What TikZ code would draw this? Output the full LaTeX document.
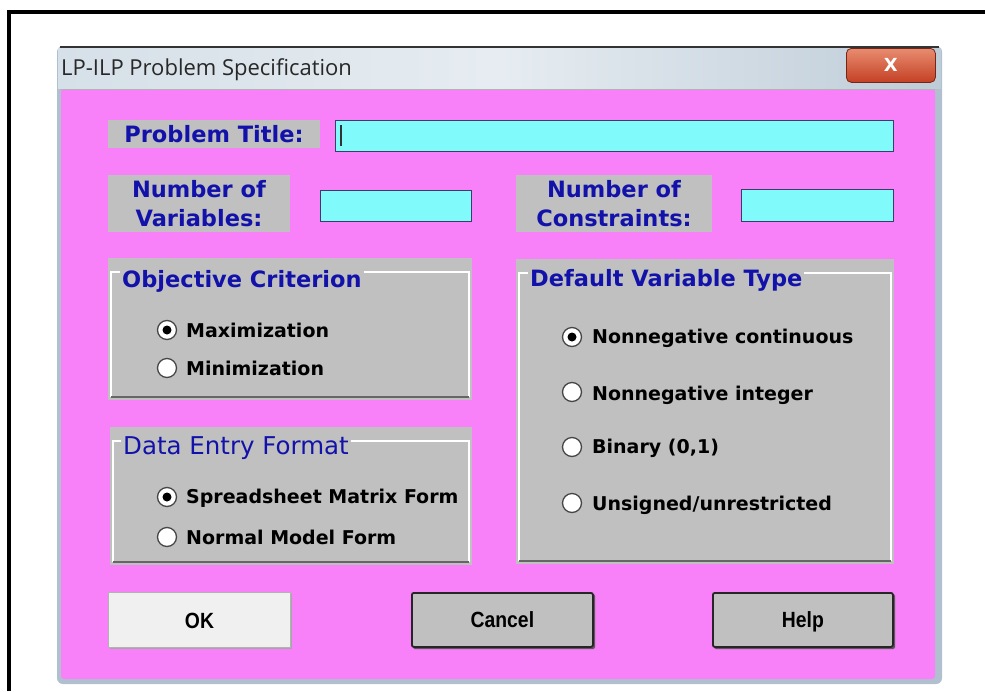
\documentclass[tikz,border=0pt]{standalone}
\usepackage{fontspec}
\usepackage{graphicx}
\setmainfont{DejaVu Sans}
\newfontfamily\wintitlefont{Open Sans}
\newfontfamily\btnfont{Liberation Sans}
\definecolor{pinkbg}{RGB}{248,128,248}
\definecolor{wingray}{RGB}{192,192,192}
\definecolor{fieldcyan}{RGB}{128,250,250}
\definecolor{fieldedge}{RGB}{60,60,100}
\definecolor{lblblue}{RGB}{18,18,170}
\definecolor{framegray}{RGB}{176,192,206}
\definecolor{titlebarA}{RGB}{214,224,232}
\definecolor{titlebarB}{RGB}{190,204,216}
\definecolor{closeA}{RGB}{232,140,112}
\definecolor{closeB}{RGB}{196,64,36}
\definecolor{titletext}{RGB}{40,40,40}
\definecolor{btnlight}{RGB}{240,240,240}
\tikzset{
  lblbox/.style={fill=wingray, inner sep=0pt, align=center, text=lblblue,
    font=\fontsize{22.5}{29}\selectfont\bfseries},
  field/.style={fill=fieldcyan, draw=fieldedge, line width=1.3pt, anchor=north west, inner sep=0pt},
  groupbox/.style={fill=wingray, anchor=north west, inner sep=0pt},
  grptitle/.style={fill=wingray, inner xsep=2pt, inner ysep=1pt, anchor=base west, text=lblblue,
    font=\fontsize{22.5}{26}\selectfont\bfseries},
  etchlight/.style={white, line width=1.2pt},
  etchdark/.style={gray!80!black, line width=1.2pt},
  radiobtn/.style={circle, fill=white, draw=gray!55!black, line width=1.3pt, minimum size=19pt, inner sep=0pt},
  radiodot/.style={circle, fill=black, minimum size=9pt, inner sep=0pt},
  radiotxt/.style={anchor=base west, inner sep=0pt, font=\fontsize{19}{22}\selectfont\bfseries},
  okbutton/.style={fill=btnlight, draw=gray!60, line width=1pt, anchor=north west, inner sep=0pt,
    text height=16pt, text depth=0pt, font=\btnfont\fontsize{22}{24}\selectfont\bfseries},
  graybutton/.style={fill=wingray, draw=black!85, line width=1.8pt, rounded corners=2pt, anchor=north west,
    inner sep=0pt, text height=16pt, text depth=0pt, font=\btnfont\fontsize{22}{24}\selectfont\bfseries},
  btnshadow/.style={fill=gray!70!black, rounded corners=2pt}
}
\begin{document}
\begin{tikzpicture}[x=1pt,y=-1pt]
\useasboundingbox (0,0) rectangle (985,691);
\fill[white] (0,0) rectangle (985,691);
% black frame
\draw[line width=4pt] (9,691) -- (9,12) -- (985,12);
% window frame
\fill[framegray, rounded corners=6pt] (57,46) rectangle (942,684);
\shade[left color=titlebarA, right color=titlebarB, middle color=titlebarA!60!white] (58,48) rectangle (941,88);
\draw[gray!40!black, line width=1.2pt] (60,47) -- (939,47);
\fill[pinkbg, rounded corners=3pt] (61,89) rectangle (935,679);
\draw[gray!60, line width=0.8pt] (61,89) -- (935,89);
\node[anchor=west, inner sep=0pt, text=titletext, font=\wintitlefont\fontsize{22}{26}\selectfont] (wintitle) at (61,70) {LP-ILP Problem Specification};
% close button
\node[anchor=north west, minimum width=89pt, minimum height=34pt, inner sep=0pt, rounded corners=5pt,
  top color=closeA, bottom color=closeB, draw=closeB!60!black, line width=0.8pt,
  text=white, font=\fontsize{18}{20}\selectfont\bfseries] (close) at (846,48) {X};

% Problem title
\node[lblbox, minimum width=212pt, minimum height=28pt] (ptlabel) at (214,134) {Problem Title:};
\node[field, minimum width=558pt, minimum height=31pt] (ptfield) at (335,120) {};
\draw[black!80, line width=1.2pt] (341,125) -- (341,146);

% Number of variables
\node[lblbox, minimum width=182pt, minimum height=57pt] (nvlabel) at (199,203.5) {Number of\\Variables:};
\node[field, minimum width=151pt, minimum height=31pt] (nvfield) at (320,190) {};

% Number of constraints
\node[lblbox, minimum width=196pt, minimum height=57pt] (nclabel) at (614,203.5) {Number of\\Constraints:};
\node[field, minimum width=152pt, minimum height=32pt] (ncfield) at (741,189) {};

% Objective Criterion group
\node[groupbox, minimum width=364pt, minimum height=142pt] (objgroup) at (108,258) {};
\draw[etchlight] (111,397) -- (111,272) -- (469,272) -- (469,397);
\draw[etchdark] (111,397) -- (469,397);
\node[grptitle] (objtitle) at (120,287) {Objective Criterion};
\node[radiobtn] (rmax) at (167,330) {};
\node[radiodot] (rmaxdot) at (rmax.center) {};
\node[radiotxt] (tmax) at (186,337) {Maximization};
\node[radiobtn] (rmin) at (167,368) {};
\node[radiotxt] (tmin) at (186,375) {Minimization};

% Data Entry Format group
\node[groupbox, minimum width=362pt, minimum height=138pt] (degroup) at (110,427) {};
\draw[etchlight] (113,562) -- (113,441) -- (469,441) -- (469,562);
\draw[etchdark] (113,562) -- (469,562);
\node[grptitle, font=\fontsize{24.5}{27}\selectfont] (detitle) at (121,454) {Data Entry Format};
\node[radiobtn] (rss) at (167,497) {};
\node[radiodot] (rssdot) at (rss.center) {};
\node[radiotxt] (tss) at (186,503) {Spreadsheet Matrix Form};
\node[radiobtn] (rnm) at (167,537) {};
\node[radiotxt] (tnm) at (186,544) {Normal Model Form};

% Default Variable Type group
\node[groupbox, minimum width=378pt, minimum height=305pt] (dvgroup) at (516,259) {};
\draw[etchlight] (519,561) -- (519,273) -- (891,273) -- (891,561);
\draw[etchdark] (519,561) -- (891,561);
\node[grptitle] (dvtitle) at (528,286) {Default Variable Type};
\node[radiobtn] (rnc) at (572,337) {};
\node[radiodot] (rncdot) at (rnc.center) {};
\node[radiotxt] (tnc) at (592,343) {Nonnegative continuous};
\node[radiobtn] (rni) at (572,392) {};
\node[radiotxt] (tni) at (592,400) {Nonnegative integer};
\node[radiobtn] (rbi) at (572,447) {};
\node[radiotxt] (tbi) at (592,453) {Binary (0,1)};
\node[radiobtn] (run) at (572,503) {};
\node[radiotxt] (tun) at (592,510) {Unsigned/unrestricted};

% Buttons
\fill[gray!70] (110,594) rectangle (292,649);
\node[okbutton, minimum width=182pt, minimum height=55pt] (okbtn) at (108,592) {\scalebox{0.88}[1]{OK}};
\fill[btnshadow] (413,594) rectangle (595,649);
\node[graybutton, minimum width=181pt, minimum height=54pt] (cancelbtn) at (411,592) {\scalebox{0.88}[1]{Cancel}};
\fill[btnshadow] (714,594) rectangle (895,649);
\node[graybutton, minimum width=180pt, minimum height=54pt] (helpbtn) at (712,592) {\scalebox{0.88}[1]{Help}};
\end{tikzpicture}
\end{document}
